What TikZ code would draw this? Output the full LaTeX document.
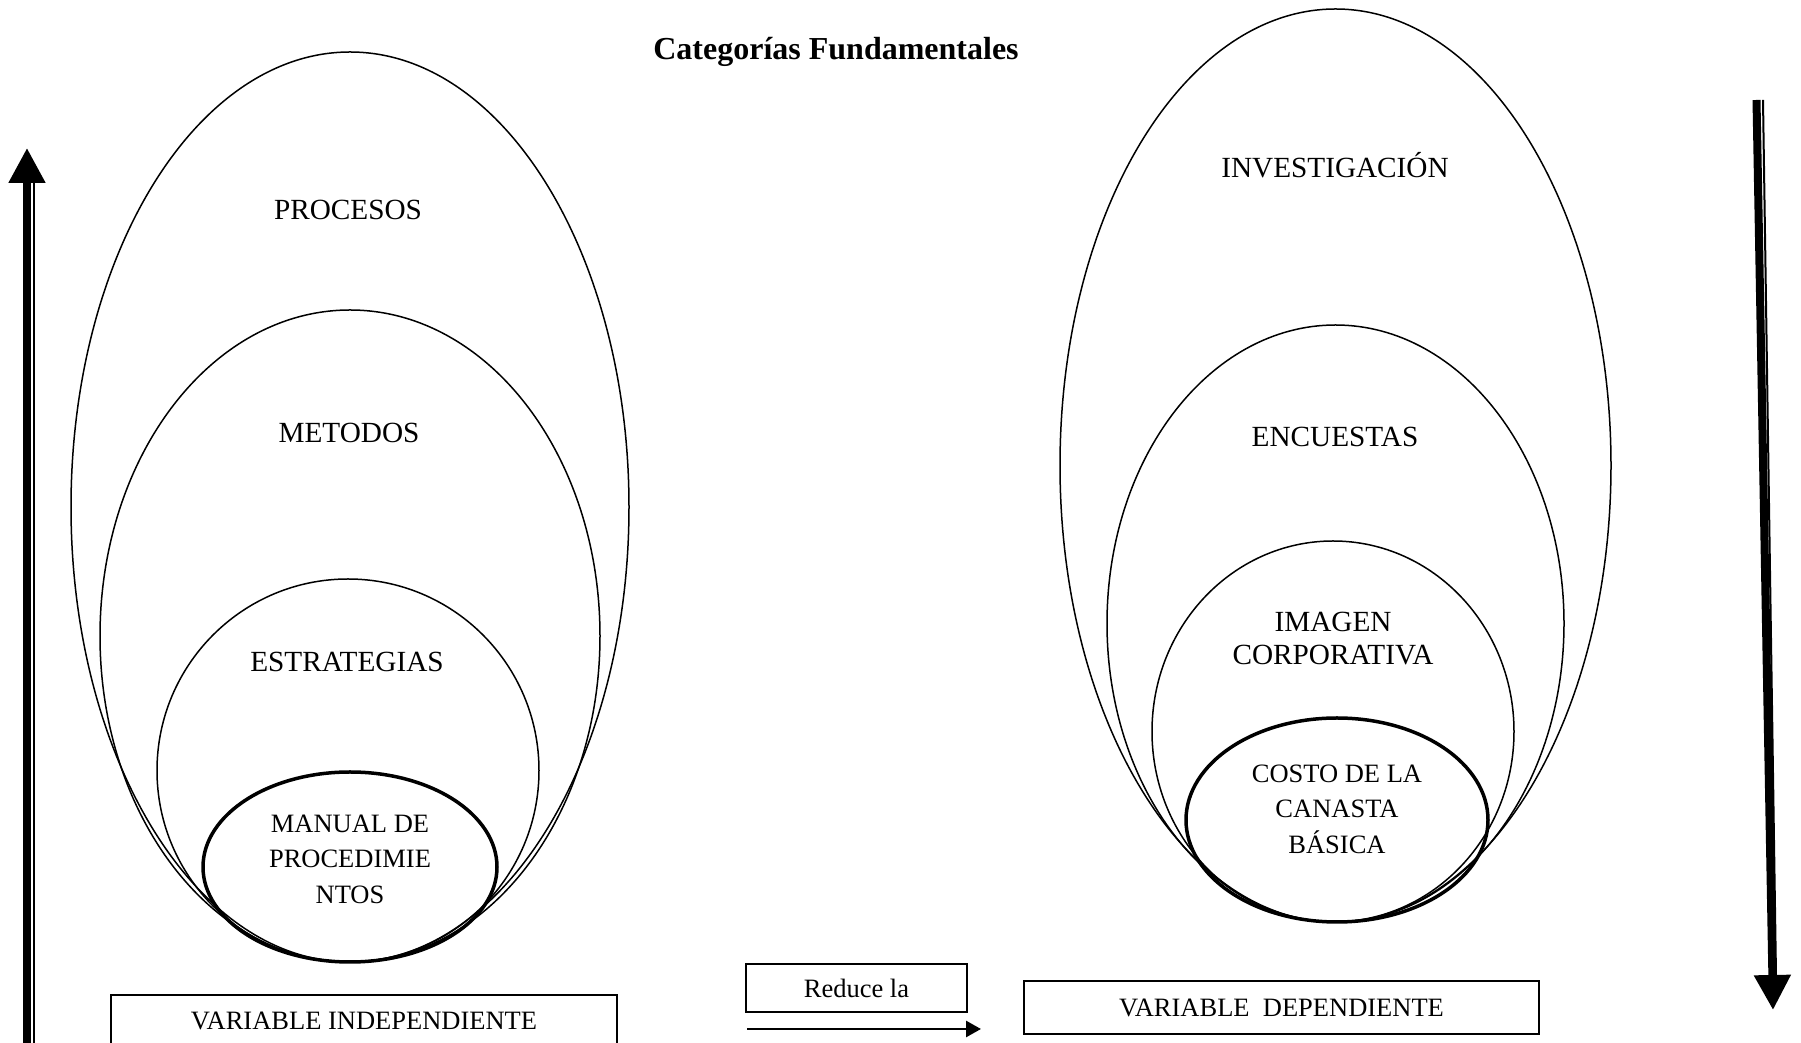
\documentclass[tikz,border=0pt]{standalone}
\usepackage{fontspec}
\setmainfont{Liberation Serif}
\usetikzlibrary{arrows.meta}

\begin{document}
\begin{tikzpicture}[x=0.4pt, y=-0.4pt,
  cat/.style={inner sep=0pt, font=\fontsize{11.7}{14}\selectfont},
  catsmall/.style={inner sep=0pt, align=center, font=\fontsize{10.6}{14.2}\selectfont},
  varbox/.style={draw, line width=0.7pt, inner sep=0pt, font=\fontsize{10.6}{13}\selectfont},
  thinoval/.style={line width=0.6pt},
  thickoval/.style={line width=1.4pt}]
\useasboundingbox (0,0) rectangle (1801,1043);

% Title
\node [font=\fontsize{12.8}{15}\selectfont\bfseries] (title) at (836,52) {Categorías Fundamentales};

% Nested ovals, all touching at the bottom
\foreach \cx/\cy/\rx/\ry in {
  350/507/279/455,
  350/636/250/326,
  348/770.5/191/191.5,
  1335.5/465.5/275.5/456.5,
  1335.5/623.5/228.5/298.5,
  1333/731.5/181/190.5} {
  \draw [thinoval] (\cx,\cy) ellipse [x radius=\rx, y radius=\ry];
}
\draw [thickoval] (350,867) ellipse [x radius=147, y radius=95];
\draw [thickoval] (1337,820) ellipse [x radius=151, y radius=102];

% Labels of the left ovals
\node [cat] (procesos) at (348,210) {PROCESOS};
\node [cat] (metodos) at (349,433) {METODOS};
\node [cat] (estrategias) at (347,662) {ESTRATEGIAS};
\node [catsmall] (manual) at (350,859) {MANUAL DE\\PROCEDIMIE\\NTOS};

% Labels of the right ovals
\node [cat] (investigacion) at (1335,165) {INVESTIGACIÓN};
\node [cat] (encuestas) at (1335,437) {ENCUESTAS};
\node [cat, align=center, font=\fontsize{11.7}{13.4}\selectfont] (imagen) at (1333,638.5) {IMAGEN\\CORPORATIVA};
\node [catsmall] (costo) at (1337,809) {COSTO DE LA\\CANASTA\\BÁSICA};

% Variable boxes
\node [varbox, minimum width=202.4pt, minimum height=20.8pt] (indep) at (364,1021) {VARIABLE INDEPENDIENTE};
\node [varbox, minimum width=88.4pt, minimum height=19.2pt] (reduce) at (856.5,988) {Reduce la};
\node [varbox, minimum width=206pt, minimum height=21.2pt] (dep) at (1281.5,1007.5) {VARIABLE\ \ DEPENDIENTE};

% Arrow under "Reduce la"
\coordinate (redstart) at (747,1029);
\coordinate (redend) at (981,1029);
\draw [line width=1.1pt, -{Triangle[width=6.4pt,length=6pt]}] (redstart) -- (redend);

% Big arrow on the left, pointing up
\coordinate (upfoot) at (27,1060);
\coordinate (uptip) at (27,148);
\coordinate (upfootb) at (33.5,1060);
\coordinate (upbase) at (33.5,183);
\draw [line width=3.2pt, -{Triangle[width=14pt,length=14pt]}] (upfoot) -- (uptip);
\draw [line width=0.8pt] (upfootb) -- (upbase);

% Big arrow on the right, pointing down
\coordinate (downtop) at (1756.5,100);
\coordinate (downtip) at (1773,1010);
\coordinate (downtopb) at (1763,100);
\coordinate (downbase) at (1776,976);
\draw [line width=3.2pt, -{Triangle[width=14pt,length=14pt]}] (downtop) -- (downtip);
\draw [line width=0.8pt] (downtopb) -- (downbase);
\end{tikzpicture}
\end{document}
